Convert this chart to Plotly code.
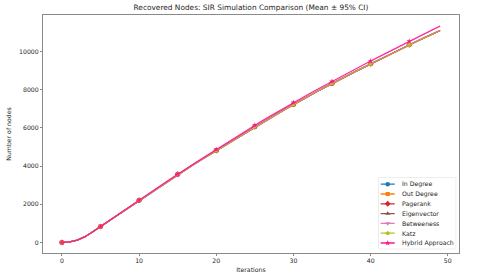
import plotly.graph_objects as go

# ---------------- data ----------------
iterations = list(range(50))

in_degree = [0, 30, 120, 300, 560, 830, 1106, 1382, 1658, 1934, 2210, 2482, 2754, 3026, 3298,
             3570, 3818, 4066, 4314, 4562, 4810, 5060, 5310, 5560, 5810, 6060, 6294, 6528, 6762,
             6996, 7230, 7450, 7670, 7890, 8110, 8330, 8534, 8738, 8942, 9146, 9350, 9550, 9750,
             9950, 10150, 10350, 10538, 10726, 10914, 11100]
out_degree = list(in_degree)
pagerank = list(in_degree)
eigenvector = list(in_degree)
betweeness = list(in_degree)
katz = list(in_degree)
hybrid = [0, 30, 120, 300, 560, 830, 1106, 1382, 1658, 1934, 2210, 2484, 2758, 3032, 3306,
          3580, 3838, 4096, 4354, 4612, 4870, 5124, 5378, 5632, 5886, 6140, 6379, 6618, 6857,
          7096, 7335, 7556, 7777, 7998, 8219, 8440, 8652, 8864, 9076, 9288, 9500, 9709, 9918,
          10127, 10336, 10545, 10741, 10937, 11133, 11330]

series_names = ["In Degree", "Out Degree", "Pagerank", "Eigenvector", "Betweeness", "Katz", "Hybrid Approach"]
series_values = [in_degree, out_degree, pagerank, eigenvector, betweeness, katz, hybrid]
series_colors = ["#1f77b4", "#ff7f0e", "#d62728", "#8c564b", "#e377c2", "#bcbd22", "#ff1493"]
series_symbols = ["circle", "square", "diamond", "triangle-up", "triangle-down", "pentagon", "star"]
series_marker_size = [4.5, 4.2, 4.5, 4.5, 4.5, 4.5, 4.2]
series_line_opacity = [0.85, 0.85, 0.85, 0.85, 0.85, 0.6, 0.9]
marker_every = 5

x_ticks = [0, 10, 20, 30, 40, 50]
y_ticks = [0, 2000, 4000, 6000, 8000, 10000]

FONT = "DejaVu Sans"
TXT = "#262626"
SPINE = "#8a8a8a"
FS = 6.2

fig = go.Figure()

for name, vals, color, sym, ms, op in zip(series_names, series_values, series_colors, series_symbols,
                                          series_marker_size, series_line_opacity):
    fig.add_trace(go.Scatter(x=iterations, y=vals, mode="lines",
                             line=dict(color=color, width=1.3), opacity=op,
                             showlegend=False, hoverinfo="skip"))
    fig.add_trace(go.Scatter(x=iterations[::marker_every], y=vals[::marker_every], mode="markers",
                             marker=dict(symbol=sym, color=color, size=ms, line=dict(width=0)),
                             showlegend=False, name=name))

# ---------------- legend (drawn in a small overlay axis) ----------------
fig.update_layout(
    xaxis2=dict(domain=[0.807, 0.992], range=[0, 77], visible=False, anchor="y2", fixedrange=True),
    yaxis2=dict(domain=[0.018, 0.3156], range=[71, 0], visible=False, anchor="x2", fixedrange=True),
)
fig.add_shape(type="rect", xref="x2 domain", yref="y2 domain", x0=0, x1=1, y0=0, y1=1,
              line=dict(color="#d6d6d6", width=0.8), fillcolor="white", layer="below")
for i, (name, color, sym, ms) in enumerate(zip(series_names, series_colors, series_symbols,
                                               series_marker_size)):
    yy = 6.3 + 9.83 * i
    fig.add_trace(go.Scatter(x=[2, 16], y=[yy, yy], xaxis="x2", yaxis="y2", mode="lines",
                             line=dict(color=color, width=1.3), showlegend=False, hoverinfo="skip"))
    fig.add_trace(go.Scatter(x=[9], y=[yy], xaxis="x2", yaxis="y2", mode="markers",
                             marker=dict(symbol=sym, color=color, size=ms, line=dict(width=0)),
                             showlegend=False, hoverinfo="skip"))
    fig.add_annotation(x=21, y=yy, xref="x2", yref="y2", text=name, showarrow=False,
                       xanchor="left", yanchor="middle", font=dict(family=FONT, size=FS, color=TXT))

fig.update_layout(
    width=480, height=276,
    margin=dict(l=43, r=21, t=15, b=23, autoexpand=False),
    paper_bgcolor="white", plot_bgcolor="white",
    showlegend=False,
    font=dict(family=FONT, size=FS, color=TXT),
    title=dict(text="Recovered Nodes: SIR Simulation Comparison (Mean ± 95% CI)",
               x=0.5, xref="paper", xanchor="center",
               y=1 - 7.3 / 276, yref="container", yanchor="middle",
               font=dict(family=FONT, size=7.4, color=TXT)),
    xaxis=dict(range=[-2.45, 51.45], tickvals=x_ticks, ticks="outside", ticklen=2, tickwidth=0.8,
               tickcolor=SPINE, showline=True, linecolor=SPINE, linewidth=1, mirror=True,
               showgrid=False, zeroline=False, automargin=False,
               title=dict(text="Iterations", standoff=4, font=dict(family=FONT, size=FS, color=TXT)),
               tickfont=dict(family=FONT, size=FS, color=TXT)),
    yaxis=dict(range=[-554, 11912], tickvals=y_ticks, tickformat="d", ticks="outside", ticklen=2,
               tickwidth=0.8, tickcolor=SPINE, showline=True, linecolor=SPINE, linewidth=1,
               mirror=True, showgrid=False, zeroline=False, automargin=False,
               title=dict(text="Number of nodes", standoff=6, font=dict(family=FONT, size=FS, color=TXT)),
               tickfont=dict(family=FONT, size=FS, color=TXT)),
)

fig.write_html("out.html", config={"displayModeBar": False},
               post_script="document.body.style.margin='0';document.body.style.overflow='hidden';")
